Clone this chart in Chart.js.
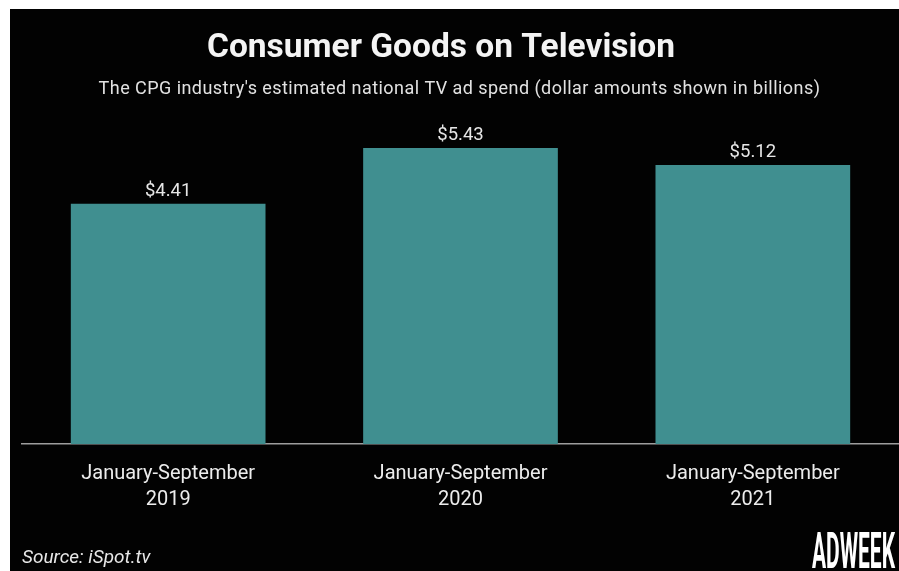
<!DOCTYPE html>
<html>
<head>
<meta charset="utf-8">
<script src="https://cdn.jsdelivr.net/npm/chart.js@4.4.1/dist/chart.umd.min.js"></script>
<style>
  html, body { margin: 0; padding: 0; background: #ffffff; }
  body { width: 899px; height: 571px; position: relative; overflow: hidden; }
  #panel { position: absolute; left: 10px; top: 9px; width: 889px; height: 562px; background: #020202; }
  #chart { display: block; }
</style>
</head>
<body>
<div id="panel"><canvas id="chart" width="889" height="562"></canvas></div>
<script>
// Chart data
const periods = ["January-September", "January-September", "January-September"];
const years = ["2019", "2020", "2021"];
const spendBillions = [4.41, 5.43, 5.12];

const titleText = "Consumer Goods on Television";
const subtitleText = "The CPG industry's estimated national TV ad spend (dollar amounts shown in billions)";
const sourceText = "Source: iSpot.tv";
const logoText = "ADWEEK";

const categoryLabels = periods.map((p, i) => [p, years[i]]);

// Headline, footer and value labels drawn on the canvas
const annotations = {
  id: 'annotations',
  afterDraw(chart) {
    const ctx = chart.ctx;
    ctx.save();
    ctx.textAlign = 'center';
    ctx.textBaseline = 'alphabetic';

    ctx.fillStyle = '#f4f4f4';
    ctx.font = 'bold 33.5px Roboto';
    ctx.fillText(titleText, 431, 48);

    ctx.fillStyle = '#e2e2e2';
    ctx.font = '18px Roboto';
    ctx.letterSpacing = '0.45px';
    ctx.fillText(subtitleText, 449.5, 85);
    ctx.letterSpacing = '0px';

    // value labels above bars
    ctx.fillStyle = '#e6e6e6';
    ctx.font = '18.5px Roboto';
    const meta = chart.getDatasetMeta(0);
    meta.data.forEach((bar, i) => {
      ctx.fillText('$' + spendBillions[i].toFixed(2), bar.x, bar.y - 8);
    });

    ctx.textAlign = 'left';
    ctx.fillStyle = '#e8e8e8';
    ctx.font = 'italic 19px Roboto';
    ctx.fillText(sourceText, 12, 554);

    // condensed wordmark
    ctx.fillStyle = '#ffffff';
    ctx.font = 'bold 50px Roboto';
    const w = ctx.measureText(logoText).width;
    const sx = 83 / w;
    ctx.translate(802, 559);
    ctx.scale(sx, 1);
    ctx.fillText(logoText, 0, 0);
    ctx.restore();
  }
};

new Chart(document.getElementById('chart'), {
  type: 'bar',
  data: {
    labels: categoryLabels,
    datasets: [{
      data: spendBillions,
      backgroundColor: '#408f90',
      borderWidth: 0,
      barPercentage: 0.666,
      categoryPercentage: 1.0
    }]
  },
  options: {
    responsive: false,
    devicePixelRatio: 1,
    animation: false,
    layout: { padding: { top: 108, left: 12, right: 0, bottom: 0 } },
    plugins: {
      legend: { display: false },
      tooltip: { enabled: false },
      title: { display: false }
    },
    scales: {
      x: {
        grid: { display: false, drawTicks: false },
        border: { display: true, color: '#9d9d9d', width: 1.5 },
        ticks: {
          color: '#ececec',
          font: { family: 'Roboto', size: 20, lineHeight: 1.3 },
          padding: 17,
          maxRotation: 0,
          autoSkip: false
        },
        afterFit(scale) { scale.height = 127; }
      },
      y: {
        display: false,
        min: 0,
        max: 6
      }
    }
  },
  plugins: [annotations]
});
</script>
</body>
</html>
